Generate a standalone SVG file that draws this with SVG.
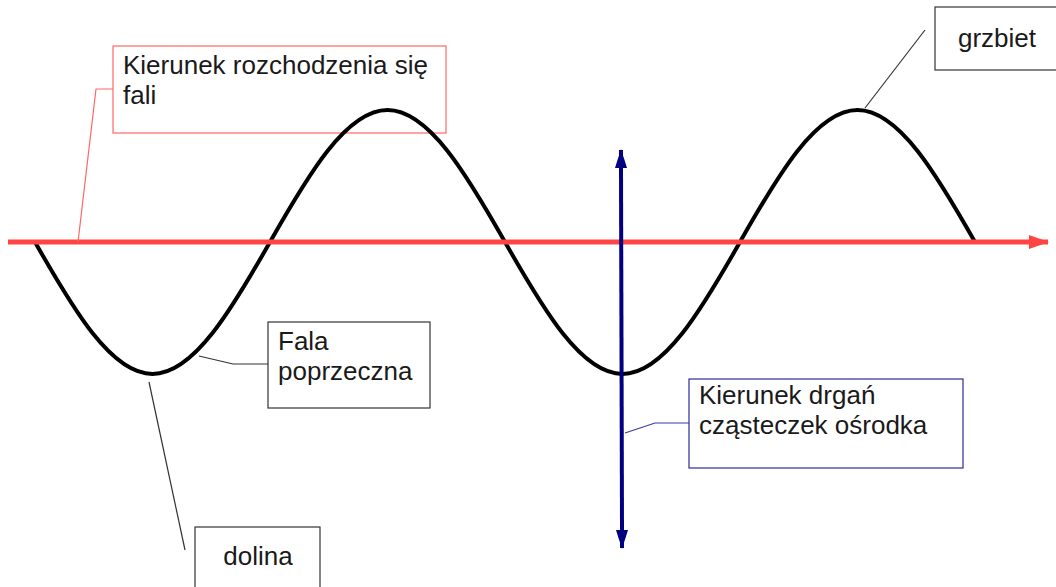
<svg xmlns="http://www.w3.org/2000/svg" width="1056" height="587" viewBox="0 0 1056 587">
<style>
  .box { fill: none; stroke: #333333; stroke-width: 1.2; }
  .boxred { fill: none; stroke: #ff6666; stroke-width: 1.2; }
  .boxblue { fill: none; stroke: #2a2a9a; stroke-width: 1.2; }
  .lbl { font-family: "Liberation Sans", Arial, sans-serif; font-size: 26px; fill: #1a1a1a; }
  .lead { fill: none; stroke: #333333; stroke-width: 1.2; }
  .leadred { fill: none; stroke: #ff6666; stroke-width: 1.2; }
  .leadblue { fill: none; stroke: #3a3aaa; stroke-width: 1.2; }
</style>
<defs>
  <marker id="arrRed" markerUnits="userSpaceOnUse" markerWidth="20" markerHeight="14" refX="19" refY="7" orient="auto">
    <path d="M0,0 L20,7 L0,14 Z" fill="#ff4444"/>
  </marker>
  <marker id="arrBlue" markerUnits="userSpaceOnUse" markerWidth="19" markerHeight="12" refX="18" refY="6" orient="auto">
    <path d="M0,0 L19,6 L0,12 Z" fill="#000080"/>
  </marker>
</defs>
<rect width="1056" height="587" fill="#ffffff"/>

<g id="node-kierunek-rozchodzenia">
  <rect class="boxred" x="113" y="46" width="333" height="87"/>
  <text class="lbl" x="123" y="74">Kierunek rozchodzenia się</text>
  <text class="lbl" x="123" y="104">fali</text>
</g>

<g id="wave">
  <path d="M35,242 C73.22,309.45 111.42,374 152.5,374 C193.58,374 231.78,309.45 270,242 C308.22,174.55 346.42,110 387.5,110 C428.58,110 466.78,174.55 505,242 C543.22,309.45 581.42,374 622.5,374 C663.58,374 701.78,309.45 740,242 C778.22,174.55 816.42,110 857.5,110 C898.58,110 936.78,174.55 975,242" fill="none" stroke="#000000" stroke-width="4"/>
</g>

<g id="connectors">
  <line x1="8" y1="242" x2="1048" y2="242" stroke="#ff4444" stroke-width="5" marker-end="url(#arrRed)"/>
  <line x1="621" y1="168" x2="621" y2="150" stroke="#000080" stroke-width="4" marker-end="url(#arrBlue)"/>
  <line x1="621" y1="166" x2="622" y2="530" stroke="#000080" stroke-width="4"/>
  <line x1="622" y1="528" x2="622" y2="548" stroke="#000080" stroke-width="4" marker-end="url(#arrBlue)"/>
  <polyline class="leadred" points="78,242 96,89 113,89"/>
  <polyline class="lead" points="925,30 865,108"/>
  <polyline class="lead" points="199,356 233,364 268,364"/>
  <polyline class="lead" points="149,382 185,550"/>
  <polyline class="leadblue" points="625,433 655,423 689,423"/>
</g>

<g id="node-grzbiet">
  <rect class="box" x="935" y="7" width="125" height="63"/>
  <text class="lbl" x="997" y="47" text-anchor="middle">grzbiet</text>
</g>

<g id="node-fala-poprzeczna">
  <rect class="box" x="268" y="322" width="162" height="86"/>
  <text class="lbl" x="278" y="350">Fala</text>
  <text class="lbl" x="278" y="380">poprzeczna</text>
</g>

<g id="node-kierunek-drgan">
  <rect class="boxblue" x="689" y="379" width="274" height="89"/>
  <text class="lbl" x="699" y="404">Kierunek drgań</text>
  <text class="lbl" x="699" y="434">cząsteczek ośrodka</text>
</g>

<g id="node-dolina">
  <rect class="box" x="195" y="527" width="125" height="70"/>
  <text class="lbl" x="258" y="565" text-anchor="middle">dolina</text>
</g>
</svg>
